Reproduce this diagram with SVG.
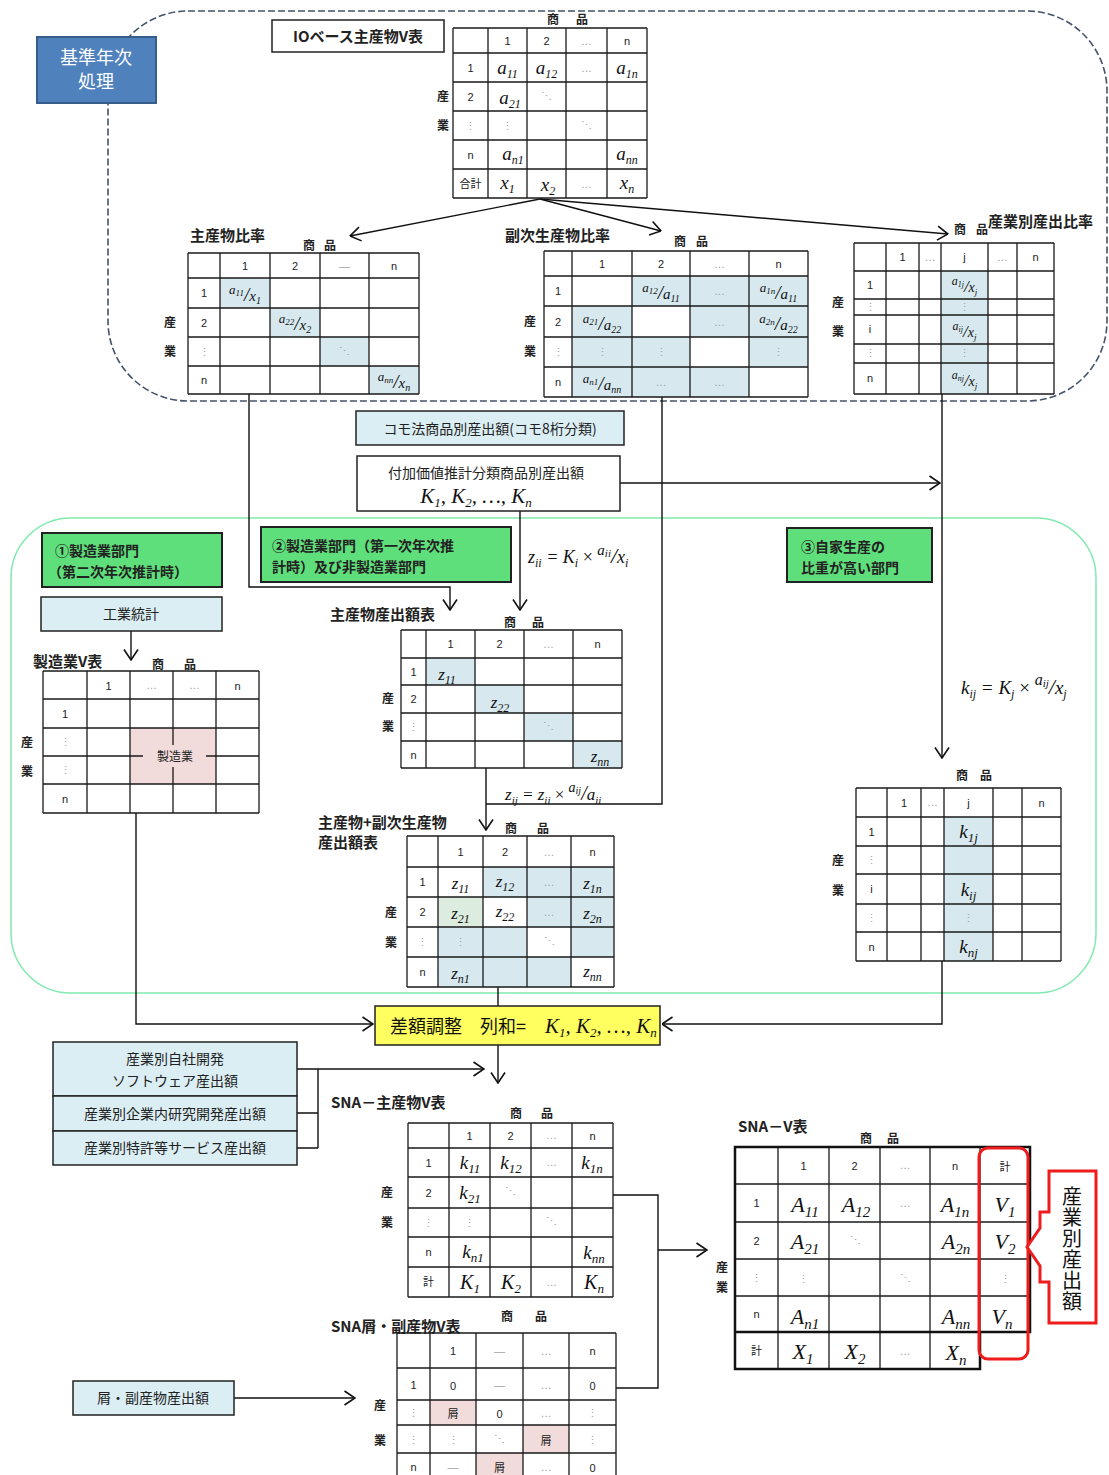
<svg xmlns="http://www.w3.org/2000/svg" width="1109" height="1475" viewBox="0 0 1109 1475">
<defs>
<marker id="ah" viewBox="0 0 12 16" refX="11.5" refY="8" markerWidth="12" markerHeight="16" markerUnits="userSpaceOnUse" orient="auto"><path d="M1,1 L11.5,8 L1,15" fill="none" stroke="#111" stroke-width="1.6"/></marker>
</defs>
<style>
.j{font-family:"Noto Sans CJK JP","Noto Sans",sans-serif}
.b{font-weight:bold}
.c{text-anchor:middle}
.n{font-family:"Liberation Sans","Noto Sans CJK JP",sans-serif;font-size:11px;text-anchor:middle;fill:#222}
.g{fill:#a0a0a0}
.m{font-family:"Liberation Serif","DejaVu Serif",serif;font-style:italic;fill:#111}
.grid{fill:none;stroke:#1a1a1a;stroke-width:1.3}
.sh{fill:#d7e9ef}
.pk{fill:#f2dcdb}
.cn{fill:none;stroke:#111;stroke-width:1.4}
.ar{marker-end:url(#ah)}
.lb{font-family:"Noto Sans CJK JP",sans-serif;font-size:12px;font-weight:bold;text-anchor:middle;fill:#222}
.tt{font-family:"Noto Sans CJK JP",sans-serif;font-size:15px;font-weight:bold;fill:#222}
.bx{fill:#fff;stroke:#222;stroke-width:1.5}
.bl{fill:#dbeef4;stroke:#222;stroke-width:1.5}
.gr{fill:#5fdf7b;stroke:#222;stroke-width:2}
.bt{font-family:"Noto Sans CJK JP",sans-serif;font-size:14px;fill:#222}
</style>
<rect width="1109" height="1475" fill="#fff"/>
<g id="regions">
<rect x="108" y="11" width="999" height="390" rx="80" fill="none" stroke="#44546a" stroke-width="1.6" stroke-dasharray="7 3"/>
<rect x="11" y="518" width="1085" height="475" rx="60" fill="none" stroke="#80eab0" stroke-width="1.5"/>
</g>
<g id="connectors">
<path class="cn ar" d="M540,199 L350,236"/>
<path class="cn ar" d="M540,199 L661,231"/>
<path class="cn ar" d="M540,199 L948,234"/>
<path class="cn ar" d="M249,394 V587 H450 V610"/>
<path class="cn ar" d="M520,511 V610"/>
<path class="cn ar" d="M620,483 H940"/>
<path class="cn" d="M662,397 V804 H486"/>
<path class="cn ar" d="M486,768 V830"/>
<path class="cn ar" d="M942,394 V758"/>
<path class="cn ar" d="M131,631 V660"/>
<path class="cn ar" d="M136,813 V1024 H373"/>
<path class="cn ar" d="M942,961 V1024 H662"/>
<path class="cn" d="M498,987 V1006"/>
<path class="cn ar" d="M498,1045 V1083"/>
<path class="cn" d="M297,1069 H318 M297,1113 H318 M297,1148 H318 M318,1069 V1148"/>
<path class="cn ar" d="M318,1069 H484"/>
<path class="cn" d="M613,1195 H658 V1388 H616"/>
<path class="cn ar" d="M658,1250 H707"/>
<path class="cn ar" d="M234,1398 H355"/>
</g>
<g id="base-year">
<rect x="37" y="37" width="119" height="66" fill="#4f81bd" stroke="#385d8a" stroke-width="2"/>
<text x="96" y="64" class="j c" font-size="18" fill="#fff">基準年次</text>
<text x="96" y="88" class="j c" font-size="18" fill="#fff">処理</text>
</g>
<g id="io-title">
<rect x="272" y="20" width="172" height="32" class="bx"/>
<text x="358" y="42" class="tt c">IOベース主産物V表</text>
</g>
<g id="io-table">
<text x="553" y="24" class="lb">商</text><text x="582" y="24" class="lb">品</text>
<text x="443" y="101" class="lb">産</text><text x="443" y="130" class="lb">業</text>
<path class="grid" d="M453,28H647M453,53H647M453,82H647M453,111H647M453,140H647M453,169H647M453,198H647M453,28V198M488,28V198M527,28V198M566,28V198M607,28V198M647,28V198"/>
<text class="n" x="507.5" y="45">1</text><text class="n" x="546.5" y="45">2</text><text class="n g" x="586.5" y="45">…</text><text class="n" x="627" y="45">n</text>
<text class="n" x="470.5" y="72">1</text><text class="n" x="470.5" y="101">2</text><text class="n g" x="470.5" y="130">⋮</text><text class="n" x="470.5" y="159">n</text><text class="n" x="470.5" y="188">合計</text>
<text class="m c" x="507.5" y="74" font-size="19">a<tspan font-size="12" dy="4">11</tspan></text>
<text class="m c" x="546.5" y="74" font-size="19">a<tspan font-size="12" dy="4">12</tspan></text>
<text class="n g" x="586.5" y="72">…</text>
<text class="m c" x="627" y="74" font-size="19">a<tspan font-size="12" dy="4">1n</tspan></text>
<text class="m c" x="510" y="104" font-size="19">a<tspan font-size="12" dy="4">21</tspan></text>
<text class="n g" x="546.5" y="100">⋱</text>
<text class="n g" x="507.5" y="130">⋮</text>
<text class="n g" x="586.5" y="129">⋱</text>
<text class="m c" x="513" y="160" font-size="19">a<tspan font-size="12" dy="4">n1</tspan></text>
<text class="m c" x="627" y="160" font-size="19">a<tspan font-size="12" dy="4">nn</tspan></text>
<text class="m c" x="507.5" y="189" font-size="19">x<tspan font-size="12" dy="4">1</tspan></text>
<text class="m c" x="548" y="191" font-size="19">x<tspan font-size="12" dy="4">2</tspan></text>
<text class="n g" x="586.5" y="188">…</text>
<text class="m c" x="627" y="189" font-size="19">x<tspan font-size="12" dy="4">n</tspan></text>
</g>
<g id="main-ratio">
<text x="190" y="241" class="tt">主産物比率</text>
<text x="309" y="250" class="lb">商</text><text x="330" y="250" class="lb">品</text>
<text x="170" y="327" class="lb">産</text><text x="170" y="356" class="lb">業</text>
<rect class="sh" x="220" y="278" width="50" height="30"/><rect class="sh" x="270" y="308" width="50" height="29"/><rect class="sh" x="320" y="337" width="49" height="29"/><rect class="sh" x="369" y="366" width="50" height="28"/>
<path class="grid" d="M188,253H419M188,278H419M188,308H419M188,337H419M188,366H419M188,394H419M188,253V394M220,253V394M270,253V394M320,253V394M369,253V394M419,253V394"/>
<text class="n" x="245" y="270">1</text><text class="n" x="295" y="270">2</text><text class="n g" x="344.5" y="270">—</text><text class="n" x="394" y="270">n</text>
<text class="n" x="204" y="297">1</text><text class="n" x="204" y="327">2</text><text class="n g" x="204" y="356">⋮</text><text class="n" x="204" y="384">n</text>
<text class="m c" x="245" y="301"><tspan font-size="13" dy="-7">a</tspan><tspan font-size="9" dy="2">11</tspan><tspan font-size="19" dy="5">/</tspan><tspan font-size="15">x</tspan><tspan font-size="10" dy="3">1</tspan></text>
<text class="m c" x="295" y="330"><tspan font-size="13" dy="-7">a</tspan><tspan font-size="9" dy="2">22</tspan><tspan font-size="19" dy="5">/</tspan><tspan font-size="15">x</tspan><tspan font-size="10" dy="3">2</tspan></text>
<text class="n g" x="344.5" y="355">⋱</text>
<text class="m c" x="394" y="388"><tspan font-size="13" dy="-7">a</tspan><tspan font-size="9" dy="2">nn</tspan><tspan font-size="19" dy="5">/</tspan><tspan font-size="15">x</tspan><tspan font-size="10" dy="3">n</tspan></text>
</g>
<g id="sub-ratio">
<text x="505" y="241" class="tt">副次生産物比率</text>
<text x="680" y="246" class="lb">商</text><text x="702" y="246" class="lb">品</text>
<text x="530" y="326" class="lb">産</text><text x="530" y="356" class="lb">業</text>
<rect class="sh" x="632" y="276" width="176" height="30"/>
<rect class="sh" x="572" y="306" width="60" height="31"/><rect class="sh" x="690" y="306" width="118" height="31"/>
<rect class="sh" x="572" y="337" width="118" height="30"/><rect class="sh" x="749" y="337" width="59" height="30"/>
<rect class="sh" x="572" y="367" width="177" height="30"/>
<path class="grid" d="M544,251H808M544,276H808M544,306H808M544,337H808M544,367H808M544,397H808M544,251V397M572,251V397M632,251V397M690,251V397M749,251V397M808,251V397"/>
<text class="n" x="602" y="268">1</text><text class="n" x="661" y="268">2</text><text class="n g" x="719.5" y="268">…</text><text class="n" x="778.5" y="268">n</text>
<text class="n" x="558" y="295">1</text><text class="n" x="558" y="326">2</text><text class="n g" x="558" y="356">⋮</text><text class="n" x="558" y="386">n</text>
<text class="m c" x="661" y="299"><tspan font-size="13" dy="-7">a</tspan><tspan font-size="9" dy="2">12</tspan><tspan font-size="19" dy="5">/</tspan><tspan font-size="15">a</tspan><tspan font-size="10" dy="3">11</tspan></text>
<text class="n g" x="719.5" y="295">…</text>
<text class="m c" x="778.5" y="299"><tspan font-size="13" dy="-7">a</tspan><tspan font-size="9" dy="2">1n</tspan><tspan font-size="19" dy="5">/</tspan><tspan font-size="15">a</tspan><tspan font-size="10" dy="3">11</tspan></text>
<text class="m c" x="602" y="330"><tspan font-size="13" dy="-7">a</tspan><tspan font-size="9" dy="2">21</tspan><tspan font-size="19" dy="5">/</tspan><tspan font-size="15">a</tspan><tspan font-size="10" dy="3">22</tspan></text>
<text class="n g" x="719.5" y="326">…</text>
<text class="m c" x="778.5" y="330"><tspan font-size="13" dy="-7">a</tspan><tspan font-size="9" dy="2">2n</tspan><tspan font-size="19" dy="5">/</tspan><tspan font-size="15">a</tspan><tspan font-size="10" dy="3">22</tspan></text>
<text class="n g" x="602" y="356">⋮</text><text class="n g" x="661" y="356">⋮</text><text class="n g" x="778.5" y="356">⋮</text>
<text class="m c" x="602" y="390"><tspan font-size="13" dy="-7">a</tspan><tspan font-size="9" dy="2">n1</tspan><tspan font-size="19" dy="5">/</tspan><tspan font-size="15">a</tspan><tspan font-size="10" dy="3">nn</tspan></text>
<text class="n g" x="661" y="386">…</text><text class="n g" x="719.5" y="386">…</text>
</g>
<g id="industry-ratio">
<text x="988" y="227" class="tt">産業別産出比率</text>
<text x="960" y="234" class="lb">商</text><text x="982" y="234" class="lb">品</text>
<text x="838" y="307" class="lb">産</text><text x="838" y="336" class="lb">業</text>
<rect class="sh" x="941" y="271" width="47" height="123"/>
<path class="grid" d="M854,243H1054M854,271H1054M854,299H1054M854,315H1054M854,344H1054M854,363H1054M854,394H1054M854,243V394M886,243V394M919,243V394M941,243V394M988,243V394M1017,243V394M1054,243V394"/>
<text class="n" x="902.5" y="261">1</text><text class="n g" x="930" y="261">…</text><text class="n" x="964.5" y="261">j</text><text class="n g" x="1002.5" y="261">…</text><text class="n" x="1035.5" y="261">n</text>
<text class="n" x="870" y="289">1</text><text class="n g" x="870" y="311">⋮</text><text class="n" x="870" y="333">i</text><text class="n g" x="870" y="357">⋮</text><text class="n" x="870" y="382">n</text>
<text class="m c" x="964.5" y="292"><tspan font-size="12" dy="-7">a</tspan><tspan font-size="8" dy="2">1j</tspan><tspan font-size="17" dy="5">/</tspan><tspan font-size="14">x</tspan><tspan font-size="9" dy="3">j</tspan></text>
<text class="n g" x="964.5" y="311">⋮</text>
<text class="m c" x="964.5" y="337"><tspan font-size="12" dy="-7">a</tspan><tspan font-size="8" dy="2">ij</tspan><tspan font-size="17" dy="5">/</tspan><tspan font-size="14">x</tspan><tspan font-size="9" dy="3">j</tspan></text>
<text class="n g" x="964.5" y="357">⋮</text>
<text class="m c" x="964.5" y="386"><tspan font-size="12" dy="-7">a</tspan><tspan font-size="8" dy="2">nj</tspan><tspan font-size="17" dy="5">/</tspan><tspan font-size="14">x</tspan><tspan font-size="9" dy="3">j</tspan></text>
</g>
<g id="como">
<rect x="356" y="411" width="268" height="34" class="bl"/>
<text x="490" y="434" class="bt c">コモ法商品別産出額(コモ8桁分類)</text>
</g>
<g id="value-added">
<rect x="357" y="456" width="263" height="55" class="bx"/>
<text x="486" y="478" class="bt c">付加価値推計分類商品別産出額</text>
<text x="476" y="503" class="m c" font-size="21">K<tspan font-size="13" dy="4">1</tspan><tspan dy="-4">, K</tspan><tspan font-size="13" dy="4">2</tspan><tspan dy="-4">, …, K</tspan><tspan font-size="13" dy="4">n</tspan></text>
</g>
<g id="formula-zii">
<text x="528" y="563" class="m" font-size="18">z<tspan font-size="12" dy="4">ii</tspan><tspan dy="-4"> = K</tspan><tspan font-size="12" dy="4">i</tspan><tspan dy="-4" font-style="normal"> × </tspan><tspan font-size="15" dy="-8">a</tspan><tspan font-size="11" dy="2">ii</tspan><tspan font-size="22" dy="6">/</tspan><tspan>x</tspan><tspan font-size="12" dy="4">i</tspan></text>
</g>
<g id="box-1">
<rect x="42" y="533" width="180" height="54" class="gr"/>
<text x="55" y="556" class="bt b">①製造業部門</text>
<text x="48" y="577" class="bt b">（第二次年次推計時）</text>
</g>
<g id="box-2">
<rect x="261" y="527" width="250" height="55" class="gr"/>
<text x="272" y="551" class="bt b">②製造業部門（第一次年次推</text>
<text x="272" y="572" class="bt b">計時）及び非製造業部門</text>
</g>
<g id="box-3">
<rect x="787" y="528" width="145" height="54" class="gr"/>
<text x="801" y="552" class="bt b">③自家生産の</text>
<text x="801" y="573" class="bt b">比重が高い部門</text>
</g>
<g id="kogyo">
<rect x="41" y="597" width="181" height="34" class="bl"/>
<text x="131" y="619" class="bt c">工業統計</text>
</g>
<g id="mfg-v">
<text x="33" y="667" class="tt">製造業V表</text>
<text x="158" y="669" class="lb">商</text><text x="190" y="669" class="lb">品</text>
<text x="27" y="747" class="lb">産</text><text x="27" y="776" class="lb">業</text>
<rect class="pk" x="130" y="728" width="86" height="56"/>
<path class="grid" d="M43,671H259M43,699H259M43,728H259M43,756H259M43,784H259M43,813H259M43,671V813M87,671V813M130,671V813M173,671V813M216,671V813M259,671V813"/>
<rect x="143" y="745" width="63" height="22" fill="#f2dcdb"/>
<text x="175" y="761" class="j c" font-size="12" fill="#222">製造業</text>
<text class="n" x="108.5" y="690">1</text><text class="n g" x="151.5" y="689">…</text><text class="n g" x="194.5" y="689">…</text><text class="n" x="237.5" y="690">n</text>
<text class="n" x="65" y="718">1</text><text class="n g" x="65" y="746">⋮</text><text class="n g" x="65" y="774">⋮</text><text class="n" x="65" y="803">n</text>
</g>
<g id="main-output">
<text x="330" y="620" class="tt">主産物産出額表</text>
<text x="510" y="627" class="lb">商</text><text x="538" y="627" class="lb">品</text>
<text x="388" y="703" class="lb">産</text><text x="388" y="731" class="lb">業</text>
<rect class="sh" x="426" y="658" width="49" height="27"/><rect class="sh" x="475" y="685" width="49" height="28"/><rect class="sh" x="524" y="713" width="49" height="28"/><rect class="sh" x="573" y="741" width="49" height="27"/>
<path class="grid" d="M401,630H622M401,658H622M401,685H622M401,713H622M401,741H622M401,768H622M401,630V768M426,630V768M475,630V768M524,630V768M573,630V768M622,630V768"/>
<text class="n" x="450.5" y="648">1</text><text class="n" x="499.5" y="648">2</text><text class="n g" x="548.5" y="648">…</text><text class="n" x="597.5" y="648">n</text>
<text class="n" x="413.5" y="676">1</text><text class="n" x="413.5" y="703">2</text><text class="n g" x="413.5" y="731">⋮</text><text class="n" x="413.5" y="759">n</text>
<text class="m c" x="447" y="680" font-size="17">z<tspan font-size="12" dy="4">11</tspan></text>
<text class="m c" x="500" y="708" font-size="17">z<tspan font-size="12" dy="4">22</tspan></text>
<text class="n g" x="548.5" y="730">⋱</text>
<text class="m c" x="600" y="762" font-size="17">z<tspan font-size="12" dy="4">nn</tspan></text>
</g>
<g id="formula-zij">
<text x="505" y="800" class="m" font-size="17">z<tspan font-size="11" dy="4">ij</tspan><tspan dy="-4"> = z</tspan><tspan font-size="11" dy="4">ii</tspan><tspan dy="-4" font-style="normal"> × </tspan><tspan font-size="14" dy="-8">a</tspan><tspan font-size="10" dy="2">ij</tspan><tspan font-size="20" dy="6">/</tspan><tspan>a</tspan><tspan font-size="11" dy="4">ii</tspan></text>
</g>
<g id="main-sub-output">
<text x="318" y="828" class="tt">主産物+副次生産物</text>
<text x="318" y="848" class="tt">産出額表</text>
<text x="511" y="833" class="lb">商</text><text x="543" y="833" class="lb">品</text>
<text x="391" y="917" class="lb">産</text><text x="391" y="947" class="lb">業</text>
<rect class="sh" x="483" y="867" width="131" height="30"/>
<rect fill="#dcecde" x="438" y="897" width="45" height="30"/><rect class="sh" x="527" y="897" width="87" height="30"/>
<rect class="sh" x="438" y="927" width="89" height="30"/><rect class="sh" x="571" y="927" width="43" height="30"/>
<rect class="sh" x="438" y="957" width="133" height="30"/>
<path class="grid" d="M407,836H614M407,867H614M407,897H614M407,927H614M407,957H614M407,987H614M407,836V987M438,836V987M483,836V987M527,836V987M571,836V987M614,836V987"/>
<text class="n" x="460.5" y="856">1</text><text class="n" x="505" y="856">2</text><text class="n g" x="549" y="856">…</text><text class="n" x="592.5" y="856">n</text>
<text class="n" x="422.5" y="886">1</text><text class="n" x="422.5" y="916">2</text><text class="n g" x="422.5" y="946">⋮</text><text class="n" x="422.5" y="976">n</text>
<text class="m c" x="460.5" y="889" font-size="17">z<tspan font-size="12" dy="4">11</tspan></text>
<text class="m c" x="505" y="887" font-size="17">z<tspan font-size="12" dy="4">12</tspan></text>
<text class="n g" x="549" y="886">…</text>
<text class="m c" x="592.5" y="889" font-size="17">z<tspan font-size="12" dy="4">1n</tspan></text>
<text class="m c" x="460.5" y="919" font-size="17">z<tspan font-size="12" dy="4">21</tspan></text>
<text class="m c" x="505" y="917" font-size="17">z<tspan font-size="12" dy="4">22</tspan></text>
<text class="n g" x="549" y="916">…</text>
<text class="m c" x="592.5" y="919" font-size="17">z<tspan font-size="12" dy="4">2n</tspan></text>
<text class="n g" x="460.5" y="946">⋮</text><text class="n g" x="549" y="945">⋱</text>
<text class="m c" x="460.5" y="979" font-size="17">z<tspan font-size="12" dy="4">n1</tspan></text>
<text class="m c" x="592.5" y="977" font-size="17">z<tspan font-size="12" dy="4">nn</tspan></text>
</g>
<g id="formula-kij">
<text x="961" y="694" class="m" font-size="19">k<tspan font-size="12" dy="4">ij</tspan><tspan dy="-4"> = K</tspan><tspan font-size="12" dy="4">j</tspan><tspan dy="-4" font-style="normal"> × </tspan><tspan font-size="16" dy="-9">a</tspan><tspan font-size="11" dy="2">ij</tspan><tspan font-size="22" dy="7">/</tspan><tspan>x</tspan><tspan font-size="12" dy="4">j</tspan></text>
</g>
<g id="own-output">
<text x="962" y="780" class="lb">商</text><text x="986" y="780" class="lb">品</text>
<text x="838" y="865" class="lb">産</text><text x="838" y="895" class="lb">業</text>
<rect class="sh" x="944" y="817" width="49" height="144"/>
<path class="grid" d="M856,788H1061M856,817H1061M856,846H1061M856,874H1061M856,904H1061M856,932H1061M856,961H1061M856,788V961M887,788V961M921,788V961M944,788V961M993,788V961M1022,788V961M1061,788V961"/>
<text class="n" x="904" y="807">1</text><text class="n g" x="932.5" y="806">…</text><text class="n" x="968.5" y="807">j</text><text class="n" x="1041.5" y="807">n</text>
<text class="n" x="871.5" y="836">1</text><text class="n g" x="871.5" y="864">⋮</text><text class="n" x="871.5" y="893">i</text><text class="n g" x="871.5" y="922">⋮</text><text class="n" x="871.5" y="951">n</text>
<text class="m c" x="968.5" y="838" font-size="19">k<tspan font-size="13" dy="4">1j</tspan></text>
<text class="m c" x="968.5" y="896" font-size="19">k<tspan font-size="13" dy="4">ij</tspan></text>
<text class="n g" x="968.5" y="922">⋮</text>
<text class="m c" x="968.5" y="953" font-size="19">k<tspan font-size="13" dy="4">nj</tspan></text>
</g>
<g id="adjust">
<rect x="375" y="1006" width="285" height="39" fill="#ffff5f" stroke="#222" stroke-width="1.5"/>
<text x="390" y="1033" class="j" font-size="18" fill="#111">差額調整　列和=</text>
<text x="545" y="1033" class="m" font-size="21">K<tspan font-size="13" dy="4">1</tspan><tspan dy="-4">, K</tspan><tspan font-size="13" dy="4">2</tspan><tspan dy="-4">, …, K</tspan><tspan font-size="13" dy="4">n</tspan></text>
</g>
<g id="extra-outputs">
<rect x="53" y="1042" width="244" height="54" class="bl"/>
<rect x="53" y="1096" width="244" height="35" class="bl"/>
<rect x="53" y="1131" width="244" height="34" class="bl"/>
<text x="175" y="1064" class="bt c">産業別自社開発</text>
<text x="175" y="1086" class="bt c">ソフトウェア産出額</text>
<text x="175" y="1119" class="bt c">産業別企業内研究開発産出額</text>
<text x="175" y="1153" class="bt c">産業別特許等サービス産出額</text>
</g>
<g id="sna-main">
<text x="331" y="1108" class="tt">SNA－主産物V表</text>
<text x="516" y="1118" class="lb">商</text><text x="547" y="1118" class="lb">品</text>
<text x="387" y="1197" class="lb">産</text><text x="387" y="1227" class="lb">業</text>
<path class="grid" d="M408,1123H613M408,1148H613M408,1177H613M408,1208H613M408,1237H613M408,1267H613M408,1297H613M408,1123V1297M449,1123V1297M490,1123V1297M531,1123V1297M572,1123V1297M613,1123V1297"/>
<text class="n" x="469.5" y="1140">1</text><text class="n" x="510.5" y="1140">2</text><text class="n g" x="551.5" y="1139">…</text><text class="n" x="592.5" y="1140">n</text>
<text class="n" x="428.5" y="1167">1</text><text class="n" x="428.5" y="1197">2</text><text class="n g" x="428.5" y="1227">⋮</text><text class="n" x="428.5" y="1256">n</text><text class="n" x="428.5" y="1286">計</text>
<text class="m c" x="470" y="1169" font-size="19">k<tspan font-size="13" dy="4">11</tspan></text>
<text class="m c" x="511" y="1169" font-size="19">k<tspan font-size="13" dy="4">12</tspan></text>
<text class="n g" x="551.5" y="1166">…</text>
<text class="m c" x="592" y="1169" font-size="19">k<tspan font-size="13" dy="4">1n</tspan></text>
<text class="m c" x="470" y="1199" font-size="19">k<tspan font-size="13" dy="4">21</tspan></text>
<text class="n g" x="510.5" y="1195">⋱</text>
<text class="n g" x="469.5" y="1227">⋮</text><text class="n g" x="551.5" y="1225">⋱</text>
<text class="m c" x="473" y="1258" font-size="19">k<tspan font-size="13" dy="4">n1</tspan></text>
<text class="m c" x="594" y="1259" font-size="19">k<tspan font-size="13" dy="4">nn</tspan></text>
<text class="m c" x="470" y="1289" font-size="20">K<tspan font-size="13" dy="4">1</tspan></text>
<text class="m c" x="511" y="1289" font-size="20">K<tspan font-size="13" dy="4">2</tspan></text>
<text class="n g" x="551.5" y="1286">…</text>
<text class="m c" x="594" y="1289" font-size="20">K<tspan font-size="13" dy="4">n</tspan></text>
</g>
<g id="sna-scrap">
<text x="331" y="1332" class="tt">SNA屑・副産物V表</text>
<text x="507" y="1321" class="lb">商</text><text x="541" y="1321" class="lb">品</text>
<text x="380" y="1410" class="lb">産</text><text x="380" y="1445" class="lb">業</text>
<rect class="pk" x="430" y="1400" width="46" height="25"/><rect class="pk" x="523" y="1425" width="46" height="28"/><rect class="pk" x="476" y="1453" width="47" height="27"/>
<path class="grid" d="M397,1333H616M397,1368H616M397,1400H616M397,1425H616M397,1453H616M397,1480H616M397,1333V1480M430,1333V1480M476,1333V1480M523,1333V1480M569,1333V1480M616,1333V1480"/>
<text class="n" x="453" y="1355">1</text><text class="n g" x="499.5" y="1355">—</text><text class="n g" x="546" y="1355">…</text><text class="n" x="592.5" y="1355">n</text>
<text class="n" x="413.5" y="1389" font-size="12">1</text><text class="n" x="453" y="1390" font-size="13">0</text><text class="n g" x="499.5" y="1389">—</text><text class="n g" x="546" y="1389">…</text><text class="n" x="592.5" y="1390" font-size="13">0</text>
<text class="n g" x="413.5" y="1417">⋮</text><text class="n" x="453" y="1418" font-size="13">屑</text><text class="n" x="499.5" y="1418" font-size="13">0</text><text class="n g" x="546" y="1417">…</text><text class="n g" x="592.5" y="1417">⋮</text>
<text class="n g" x="413.5" y="1444">⋮</text><text class="n g" x="453" y="1444">⋮</text><text class="n g" x="499.5" y="1443">⋱</text><text class="n" x="546" y="1445" font-size="13">屑</text><text class="n g" x="592.5" y="1444">⋮</text>
<text class="n" x="413.5" y="1471">n</text><text class="n g" x="453" y="1471">—</text><text class="n" x="499.5" y="1472" font-size="13">屑</text><text class="n g" x="546" y="1471">…</text><text class="n" x="592.5" y="1472" font-size="13">0</text>
</g>
<g id="scrap-input">
<rect x="73" y="1381" width="161" height="34" class="bl"/>
<text x="153" y="1403" class="bt c">屑・副産物産出額</text>
</g>
<g id="sna-v">
<text x="738" y="1132" class="tt">SNA－V表</text>
<text x="866" y="1143" class="lb">商</text><text x="893" y="1143" class="lb">品</text>
<text x="722" y="1272" class="lb">産</text><text x="722" y="1292" class="lb">業</text>
<path class="grid" d="M735,1184H1030M735,1222H1030M735,1259H1030M735,1296H1030M778,1147V1369M829,1147V1369M880,1147V1369M930,1147V1369M980,1147V1369"/>
<path fill="none" stroke="#111" stroke-width="2.5" d="M735,1147H1030V1332H735ZM735,1332V1369H980V1332"/>
<text class="n" x="803.5" y="1170">1</text><text class="n" x="854.5" y="1170">2</text><text class="n g" x="905" y="1169">…</text><text class="n" x="955" y="1170">n</text><text class="n" x="1005" y="1171" font-size="13">計</text>
<text class="n" x="756.5" y="1207">1</text><text class="n" x="756.5" y="1245">2</text><text class="n g" x="756.5" y="1282">⋮</text><text class="n" x="756.5" y="1318">n</text><text class="n" x="756.5" y="1355" font-size="12">計</text>
<text class="m c" x="805" y="1212" font-size="22">A<tspan font-size="15" dy="5">11</tspan></text>
<text class="m c" x="856" y="1212" font-size="22">A<tspan font-size="15" dy="5">12</tspan></text>
<text class="n g" x="905" y="1207">…</text>
<text class="m c" x="955" y="1212" font-size="22">A<tspan font-size="15" dy="5">1n</tspan></text>
<text class="m c" x="1005" y="1212" font-size="22">V<tspan font-size="15" dy="5">1</tspan></text>
<text class="m c" x="805" y="1249" font-size="22">A<tspan font-size="15" dy="5">21</tspan></text>
<text class="n g" x="855" y="1244">⋱</text>
<text class="m c" x="956" y="1249" font-size="22">A<tspan font-size="15" dy="5">2n</tspan></text>
<text class="m c" x="1005" y="1249" font-size="22">V<tspan font-size="15" dy="5">2</tspan></text>
<text class="n g" x="803.5" y="1283">⋮</text><text class="n g" x="905" y="1282">⋱</text><text class="n g" x="1005" y="1283">⋮</text>
<text class="m c" x="805" y="1324" font-size="22">A<tspan font-size="15" dy="5">n1</tspan></text>
<text class="m c" x="956" y="1324" font-size="22">A<tspan font-size="15" dy="5">nn</tspan></text>
<text class="m c" x="1002" y="1324" font-size="22">V<tspan font-size="15" dy="5">n</tspan></text>
<text class="m c" x="803" y="1359" font-size="22">X<tspan font-size="15" dy="5">1</tspan></text>
<text class="m c" x="855" y="1359" font-size="22">X<tspan font-size="15" dy="5">2</tspan></text>
<text class="n g" x="905" y="1355">…</text>
<text class="m c" x="956" y="1360" font-size="22">X<tspan font-size="15" dy="5">n</tspan></text>
<rect x="979" y="1148" width="49" height="211" rx="9" fill="none" stroke="#ee1c1c" stroke-width="3"/>
</g>
<g id="industry-output-callout">
<path d="M1049,1171 H1096 V1323 H1049 V1282 H1040 V1266 L1027,1247 L1040,1228 V1212 H1049 Z" fill="#fff" stroke="#ee1c1c" stroke-width="3"/>
<text x="1072" y="1186" class="j" font-size="20" fill="#111" writing-mode="tb" letter-spacing="1">産業別産出額</text>
</g>
</svg>
